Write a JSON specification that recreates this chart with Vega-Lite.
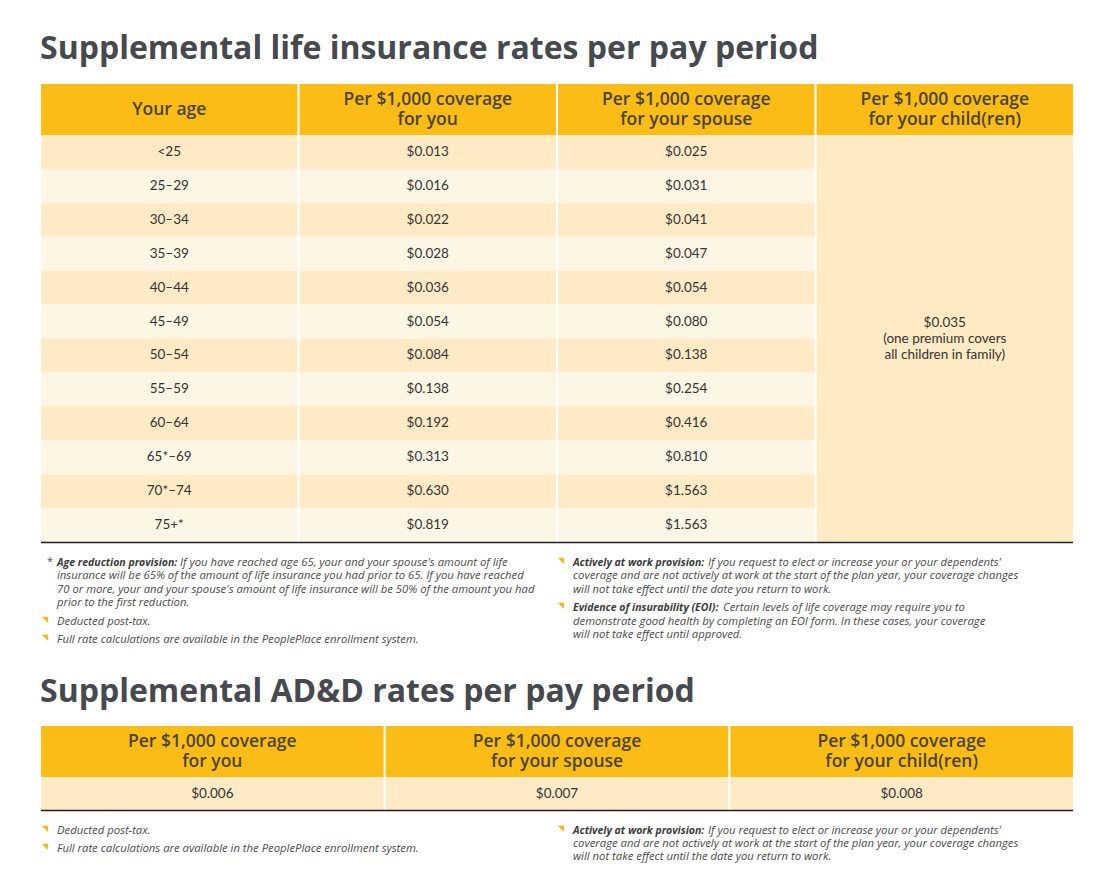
{
  "$schema": "https://vega.github.io/schema/vega-lite/v6.json",
  "width": 1115,
  "height": 896,
  "autosize": {"type": "none"},
  "padding": 0,
  "background": "#ffffff",
  "config": {"view": {"stroke": null}},
  "datasets": {
    "titles": [
      {"section": "life", "title": "Supplemental life insurance rates per pay period"},
      {"section": "add", "title": "Supplemental AD&D rates per pay period"}
    ],
    "rules": [{"section": "life"}, {"section": "add"}],
    "lifeHeader": [
      {"part": "header", "col": "Your age", "label": "Your age"},
      {"part": "header", "col": "for you", "label": "Per $1,000 coverage\nfor you"},
      {"part": "header", "col": "for your spouse", "label": "Per $1,000 coverage\nfor your spouse"},
      {"part": "header", "col": "for your child(ren)", "label": "Per $1,000 coverage\nfor your child(ren)"}
    ],
    "lifeRates": [
      {"Your age": "<25", "for you": 0.013, "for your spouse": 0.025},
      {"Your age": "25–29", "for you": 0.016, "for your spouse": 0.031},
      {"Your age": "30–34", "for you": 0.022, "for your spouse": 0.041},
      {"Your age": "35–39", "for you": 0.028, "for your spouse": 0.047},
      {"Your age": "40–44", "for you": 0.036, "for your spouse": 0.054},
      {"Your age": "45–49", "for you": 0.054, "for your spouse": 0.080},
      {"Your age": "50–54", "for you": 0.084, "for your spouse": 0.138},
      {"Your age": "55–59", "for you": 0.138, "for your spouse": 0.254},
      {"Your age": "60–64", "for you": 0.192, "for your spouse": 0.416},
      {"Your age": "65*–69", "for you": 0.313, "for your spouse": 0.810},
      {"Your age": "70*–74", "for you": 0.630, "for your spouse": 1.563},
      {"Your age": "75+*", "for you": 0.819, "for your spouse": 1.563}
    ],
    "lifeChild": [
      {"part": "all", "col": "for your child(ren)", "label": "$0.035\n(one premium covers\nall children in family)"}
    ],
    "addHeader": [
      {"part": "header", "col": "for you", "label": "Per $1,000 coverage\nfor you"},
      {"part": "header", "col": "for your spouse", "label": "Per $1,000 coverage\nfor your spouse"},
      {"part": "header", "col": "for your child(ren)", "label": "Per $1,000 coverage\nfor your child(ren)"}
    ],
    "addRates": [
      {"part": "rates", "for you": 0.006, "for your spouse": 0.007, "for your child(ren)": 0.008}
    ],
    "notes": [
      {"side": "left", "slot": 0, "marker": "*", "lead": "Age reduction provision:", "kind": "age", "text": "If you have reached age 65, your and your spouse's amount of life"},
      {"side": "left", "slot": 1, "text": "insurance will be 65% of the amount of life insurance you had prior to 65. If you have reached"},
      {"side": "left", "slot": 2, "text": "70 or more, your and your spouse's amount of life insurance will be 50% of the amount you had"},
      {"side": "left", "slot": 3, "text": "prior to the first reduction."},
      {"side": "left", "slot": 5, "marker": "◥", "text": "Deducted post-tax."},
      {"side": "left", "slot": 7, "marker": "◥", "text": "Full rate calculations are available in the PeoplePlace enrollment system."},
      {"side": "right", "slot": 0, "marker": "◥", "lead": "Actively at work provision:", "kind": "active", "text": "If you request to elect or increase your or your dependents'"},
      {"side": "right", "slot": 1, "text": "coverage and are not actively at work at the start of the plan year, your coverage changes"},
      {"side": "right", "slot": 2, "text": "will not take effect until the date you return to work."},
      {"side": "right", "slot": 4, "marker": "◥", "lead": "Evidence of insurability (EOI):", "kind": "eoi", "text": "Certain levels of life coverage may require you to"},
      {"side": "right", "slot": 5, "text": "demonstrate good health by completing an EOI form. In these cases, your coverage"},
      {"side": "right", "slot": 6, "text": "will not take effect until approved."},
      {"side": "left", "slot": 8, "marker": "◥", "text": "Deducted post-tax."},
      {"side": "left", "slot": 10, "marker": "◥", "text": "Full rate calculations are available in the PeoplePlace enrollment system."},
      {"side": "right", "slot": 8, "marker": "◥", "lead": "Actively at work provision:", "kind": "active", "text": "If you request to elect or increase your or your dependents'"},
      {"side": "right", "slot": 9, "text": "coverage and are not actively at work at the start of the plan year, your coverage changes"},
      {"side": "right", "slot": 11, "text": "will not take effect until the date you return to work."}
    ]
  },
  "resolve": {"scale": {"x": "independent", "y": "independent", "color": "independent"}},
  "layer": [
    {
      "data": {"name": "titles"},
      "mark": {"type": "text", "align": "left", "baseline": "middle", "font": "Open Sans", "fontWeight": "bold", "fontSize": 32, "color": "#46494e"},
      "encoding": {
        "x": {"field": "section", "type": "nominal", "scale": {"type": "point", "domain": ["life", "add"], "range": [40, 40], "padding": 0}, "axis": null},
        "y": {"field": "section", "type": "nominal", "scale": {"type": "point", "domain": ["life", "add"], "range": [49, 692], "padding": 0}, "axis": null},
        "text": {"field": "title", "type": "nominal"}
      }
    },
    {
      "data": {"name": "lifeHeader"},
      "mark": {"type": "rect", "fill": "#FBBC15"},
      "encoding": {
        "x": {"field": "col", "type": "nominal", "scale": {"type": "band", "domain": ["Your age", "for you", "for your spouse", "for your child(ren)"], "range": [41, 1073], "paddingInner": 0.008, "paddingOuter": 0}, "axis": null},
        "y": {"field": "part", "type": "nominal", "scale": {"type": "band", "domain": ["header"], "range": [84, 135], "paddingInner": 0, "paddingOuter": 0}, "axis": null}
      }
    },
    {
      "data": {"name": "lifeHeader"},
      "transform": [{"filter": "datum.col === 'Your age'"}],
      "mark": {"type": "text", "align": "center", "baseline": "middle", "font": "Open Sans", "fontWeight": 600, "fontSize": 17.5, "color": "#4a4536"},
      "encoding": {
        "x": {"field": "col", "type": "nominal", "scale": {"type": "band", "domain": ["Your age", "for you", "for your spouse", "for your child(ren)"], "range": [41, 1073], "paddingInner": 0.008, "paddingOuter": 0}, "axis": null},
        "y": {"field": "part", "type": "nominal", "scale": {"type": "band", "domain": ["header"], "range": [84, 135], "paddingInner": 0, "paddingOuter": 0}, "axis": null},
        "text": {"field": "label", "type": "nominal"}
      }
    },
    {
      "data": {"name": "lifeHeader"},
      "transform": [{"filter": "datum.col !== 'Your age'"}],
      "mark": {"type": "text", "align": "center", "baseline": "middle", "font": "Open Sans", "fontWeight": 600, "fontSize": 17.5, "color": "#4a4536", "lineBreak": "\n", "lineHeight": 20, "dy": -10},
      "encoding": {
        "x": {"field": "col", "type": "nominal", "scale": {"type": "band", "domain": ["Your age", "for you", "for your spouse", "for your child(ren)"], "range": [41, 1073], "paddingInner": 0.008, "paddingOuter": 0}, "axis": null},
        "y": {"field": "part", "type": "nominal", "scale": {"type": "band", "domain": ["header"], "range": [84, 135], "paddingInner": 0, "paddingOuter": 0}, "axis": null},
        "text": {"field": "label", "type": "nominal"}
      }
    },
    {
      "data": {"name": "lifeRates"},
      "transform": [{"fold": ["Your age", "for you", "for your spouse"], "as": ["col", "val"]}],
      "mark": {"type": "rect"},
      "encoding": {
        "x": {"field": "col", "type": "nominal", "scale": {"type": "band", "domain": ["Your age", "for you", "for your spouse", "for your child(ren)"], "range": [41, 1073], "paddingInner": 0.008, "paddingOuter": 0}, "axis": null},
        "y": {"field": "Your age", "type": "nominal", "sort": null, "scale": {"type": "band", "domain": ["<25", "25–29", "30–34", "35–39", "40–44", "45–49", "50–54", "55–59", "60–64", "65*–69", "70*–74", "75+*"], "range": [135, 542], "paddingInner": 0, "paddingOuter": 0}, "axis": null},
        "color": {"field": "Your age", "type": "nominal", "legend": null, "scale": {"domain": ["<25", "25–29", "30–34", "35–39", "40–44", "45–49", "50–54", "55–59", "60–64", "65*–69", "70*–74", "75+*"], "range": ["#FEEBC6", "#FEF6E4", "#FEEBC6", "#FEF6E4", "#FEEBC6", "#FEF6E4", "#FEEBC6", "#FEF6E4", "#FEEBC6", "#FEF6E4", "#FEEBC6", "#FEF6E4"]}}
      }
    },
    {
      "data": {"name": "lifeRates"},
      "transform": [{"fold": ["Your age"], "as": ["col", "label"]}],
      "mark": {"type": "text", "align": "center", "baseline": "middle", "font": "Lato", "fontSize": 13.5, "color": "#333333"},
      "encoding": {
        "x": {"field": "col", "type": "nominal", "scale": {"type": "band", "domain": ["Your age", "for you", "for your spouse", "for your child(ren)"], "range": [41, 1073], "paddingInner": 0.008, "paddingOuter": 0}, "axis": null},
        "y": {"field": "Your age", "type": "nominal", "scale": {"type": "band", "domain": ["<25", "25–29", "30–34", "35–39", "40–44", "45–49", "50–54", "55–59", "60–64", "65*–69", "70*–74", "75+*"], "range": [135, 542], "paddingInner": 0, "paddingOuter": 0}, "axis": null},
        "text": {"field": "label", "type": "nominal"}
      }
    },
    {
      "data": {"name": "lifeRates"},
      "transform": [{"fold": ["for you", "for your spouse"], "as": ["col", "rate"]}],
      "mark": {"type": "text", "align": "center", "baseline": "middle", "font": "Lato", "fontSize": 13.5, "color": "#333333"},
      "encoding": {
        "x": {"field": "col", "type": "nominal", "scale": {"type": "band", "domain": ["Your age", "for you", "for your spouse", "for your child(ren)"], "range": [41, 1073], "paddingInner": 0.008, "paddingOuter": 0}, "axis": null},
        "y": {"field": "Your age", "type": "nominal", "scale": {"type": "band", "domain": ["<25", "25–29", "30–34", "35–39", "40–44", "45–49", "50–54", "55–59", "60–64", "65*–69", "70*–74", "75+*"], "range": [135, 542], "paddingInner": 0, "paddingOuter": 0}, "axis": null},
        "text": {"field": "rate", "type": "quantitative", "format": "$.3f"}
      }
    },
    {
      "data": {"name": "lifeChild"},
      "mark": {"type": "rect", "fill": "#FEEAC3"},
      "encoding": {
        "x": {"field": "col", "type": "nominal", "scale": {"type": "band", "domain": ["Your age", "for you", "for your spouse", "for your child(ren)"], "range": [41, 1073], "paddingInner": 0.008, "paddingOuter": 0}, "axis": null},
        "y": {"field": "part", "type": "nominal", "scale": {"type": "band", "domain": ["all"], "range": [135, 542], "paddingInner": 0, "paddingOuter": 0}, "axis": null}
      }
    },
    {
      "data": {"name": "lifeChild"},
      "mark": {"type": "text", "align": "center", "baseline": "middle", "font": "Lato", "fontSize": 13.5, "color": "#333333", "lineBreak": "\n", "lineHeight": 16, "dy": -16},
      "encoding": {
        "x": {"field": "col", "type": "nominal", "scale": {"type": "band", "domain": ["Your age", "for you", "for your spouse", "for your child(ren)"], "range": [41, 1073], "paddingInner": 0.008, "paddingOuter": 0}, "axis": null},
        "y": {"field": "part", "type": "nominal", "scale": {"type": "band", "domain": ["all"], "range": [135, 542], "paddingInner": 0, "paddingOuter": 0}, "axis": null},
        "text": {"field": "label", "type": "nominal"}
      }
    },
    {
      "data": {"name": "addHeader"},
      "mark": {"type": "rect", "fill": "#FBBC15"},
      "encoding": {
        "x": {"field": "col", "type": "nominal", "scale": {"type": "band", "domain": ["for you", "for your spouse", "for your child(ren)"], "range": [41, 1073], "paddingInner": 0.006, "paddingOuter": 0}, "axis": null},
        "y": {"field": "part", "type": "nominal", "scale": {"type": "band", "domain": ["header"], "range": [726, 777], "paddingInner": 0, "paddingOuter": 0}, "axis": null}
      }
    },
    {
      "data": {"name": "addHeader"},
      "mark": {"type": "text", "align": "center", "baseline": "middle", "font": "Open Sans", "fontWeight": 600, "fontSize": 17.5, "color": "#4a4536", "lineBreak": "\n", "lineHeight": 20, "dy": -10},
      "encoding": {
        "x": {"field": "col", "type": "nominal", "scale": {"type": "band", "domain": ["for you", "for your spouse", "for your child(ren)"], "range": [41, 1073], "paddingInner": 0.006, "paddingOuter": 0}, "axis": null},
        "y": {"field": "part", "type": "nominal", "scale": {"type": "band", "domain": ["header"], "range": [726, 777], "paddingInner": 0, "paddingOuter": 0}, "axis": null},
        "text": {"field": "label", "type": "nominal"}
      }
    },
    {
      "data": {"name": "addRates"},
      "transform": [{"fold": ["for you", "for your spouse", "for your child(ren)"], "as": ["col", "rate"]}],
      "mark": {"type": "rect", "fill": "#FEEBC6"},
      "encoding": {
        "x": {"field": "col", "type": "nominal", "scale": {"type": "band", "domain": ["for you", "for your spouse", "for your child(ren)"], "range": [41, 1073], "paddingInner": 0.006, "paddingOuter": 0}, "axis": null},
        "y": {"field": "part", "type": "nominal", "scale": {"type": "band", "domain": ["rates"], "range": [777, 810], "paddingInner": 0, "paddingOuter": 0}, "axis": null}
      }
    },
    {
      "data": {"name": "addRates"},
      "transform": [{"fold": ["for you", "for your spouse", "for your child(ren)"], "as": ["col", "rate"]}],
      "mark": {"type": "text", "align": "center", "baseline": "middle", "font": "Lato", "fontSize": 13.5, "color": "#333333"},
      "encoding": {
        "x": {"field": "col", "type": "nominal", "scale": {"type": "band", "domain": ["for you", "for your spouse", "for your child(ren)"], "range": [41, 1073], "paddingInner": 0.006, "paddingOuter": 0}, "axis": null},
        "y": {"field": "part", "type": "nominal", "scale": {"type": "band", "domain": ["rates"], "range": [777, 810], "paddingInner": 0, "paddingOuter": 0}, "axis": null},
        "text": {"field": "rate", "type": "quantitative", "format": "$.3f"}
      }
    },
    {
      "data": {"name": "rules"},
      "mark": {"type": "rule", "color": "#231f20", "strokeWidth": 1.5},
      "encoding": {
        "x": {"datum": 0, "type": "quantitative", "scale": {"domain": [0, 1], "range": [41, 1073], "nice": false, "zero": false}, "axis": null},
        "x2": {"datum": 1},
        "y": {"field": "section", "type": "nominal", "scale": {"type": "point", "domain": ["life", "add"], "range": [542.5, 810.5], "padding": 0}, "axis": null}
      }
    },
    {
      "data": {"name": "notes"},
      "transform": [{"filter": "datum.marker === '*'"}],
      "mark": {"type": "text", "align": "center", "baseline": "middle", "font": "Open Sans", "fontSize": 11, "color": "#555555", "dx": -7, "dy": -1},
      "encoding": {
        "x": {"field": "side", "type": "nominal", "scale": {"type": "point", "domain": ["left", "right"], "range": [57, 573], "padding": 0}, "axis": null},
        "y": {"field": "slot", "type": "quantitative", "scale": {"type": "linear", "domain": [0, 1, 2, 3, 4, 5, 6, 7, 8, 9, 10, 11], "range": [562.5, 576, 589.5, 603, 608, 621.75, 635, 640, 831, 844, 849, 857], "nice": false, "zero": false}, "axis": null},
        "text": {"field": "marker", "type": "nominal"}
      }
    },
    {
      "data": {"name": "notes"},
      "transform": [{"filter": "datum.marker === '◥'"}],
      "mark": {"type": "text", "align": "center", "baseline": "middle", "font": "DejaVu Sans", "fontSize": 8, "color": "#F5B616", "dx": -12, "dy": -2},
      "encoding": {
        "x": {"field": "side", "type": "nominal", "scale": {"type": "point", "domain": ["left", "right"], "range": [57, 573], "padding": 0}, "axis": null},
        "y": {"field": "slot", "type": "quantitative", "scale": {"type": "linear", "domain": [0, 1, 2, 3, 4, 5, 6, 7, 8, 9, 10, 11], "range": [562.5, 576, 589.5, 603, 608, 621.75, 635, 640, 831, 844, 849, 857], "nice": false, "zero": false}, "axis": null},
        "text": {"field": "marker", "type": "nominal"}
      }
    },
    {
      "data": {"name": "notes"},
      "transform": [{"filter": "isValid(datum.lead)"}],
      "mark": {"type": "text", "align": "left", "baseline": "middle", "font": "Open Sans", "fontStyle": "italic", "fontWeight": "bold", "fontSize": 10.5, "color": "#3a3a3a"},
      "encoding": {
        "x": {"field": "side", "type": "nominal", "scale": {"type": "point", "domain": ["left", "right"], "range": [57, 573], "padding": 0}, "axis": null},
        "y": {"field": "slot", "type": "quantitative", "scale": {"type": "linear", "domain": [0, 1, 2, 3, 4, 5, 6, 7, 8, 9, 10, 11], "range": [562.5, 576, 589.5, 603, 608, 621.75, 635, 640, 831, 844, 849, 857], "nice": false, "zero": false}, "axis": null},
        "text": {"field": "lead", "type": "nominal"}
      }
    },
    {
      "data": {"name": "notes"},
      "transform": [{"filter": "!isValid(datum.lead)"}],
      "mark": {"type": "text", "align": "left", "baseline": "middle", "font": "Open Sans", "fontStyle": "italic", "fontSize": 11.3, "color": "#4a4a4a"},
      "encoding": {
        "x": {"field": "side", "type": "nominal", "scale": {"type": "point", "domain": ["left", "right"], "range": [57, 573], "padding": 0}, "axis": null},
        "y": {"field": "slot", "type": "quantitative", "scale": {"type": "linear", "domain": [0, 1, 2, 3, 4, 5, 6, 7, 8, 9, 10, 11], "range": [562.5, 576, 589.5, 603, 608, 621.75, 635, 640, 831, 844, 849, 857], "nice": false, "zero": false}, "axis": null},
        "text": {"field": "text", "type": "nominal"}
      }
    },
    {
      "data": {"name": "notes"},
      "transform": [{"filter": "datum.kind === 'age'"}],
      "mark": {"type": "text", "align": "left", "baseline": "middle", "font": "Open Sans", "fontStyle": "italic", "fontSize": 11.3, "color": "#4a4a4a", "dx": 123},
      "encoding": {
        "x": {"field": "side", "type": "nominal", "scale": {"type": "point", "domain": ["left", "right"], "range": [57, 573], "padding": 0}, "axis": null},
        "y": {"field": "slot", "type": "quantitative", "scale": {"type": "linear", "domain": [0, 1, 2, 3, 4, 5, 6, 7, 8, 9, 10, 11], "range": [562.5, 576, 589.5, 603, 608, 621.75, 635, 640, 831, 844, 849, 857], "nice": false, "zero": false}, "axis": null},
        "text": {"field": "text", "type": "nominal"}
      }
    },
    {
      "data": {"name": "notes"},
      "transform": [{"filter": "datum.kind === 'active'"}],
      "mark": {"type": "text", "align": "left", "baseline": "middle", "font": "Open Sans", "fontStyle": "italic", "fontSize": 11.3, "color": "#4a4a4a", "dx": 135},
      "encoding": {
        "x": {"field": "side", "type": "nominal", "scale": {"type": "point", "domain": ["left", "right"], "range": [57, 573], "padding": 0}, "axis": null},
        "y": {"field": "slot", "type": "quantitative", "scale": {"type": "linear", "domain": [0, 1, 2, 3, 4, 5, 6, 7, 8, 9, 10, 11], "range": [562.5, 576, 589.5, 603, 608, 621.75, 635, 640, 831, 844, 849, 857], "nice": false, "zero": false}, "axis": null},
        "text": {"field": "text", "type": "nominal"}
      }
    },
    {
      "data": {"name": "notes"},
      "transform": [{"filter": "datum.kind === 'eoi'"}],
      "mark": {"type": "text", "align": "left", "baseline": "middle", "font": "Open Sans", "fontStyle": "italic", "fontSize": 11.3, "color": "#4a4a4a", "dx": 150},
      "encoding": {
        "x": {"field": "side", "type": "nominal", "scale": {"type": "point", "domain": ["left", "right"], "range": [57, 573], "padding": 0}, "axis": null},
        "y": {"field": "slot", "type": "quantitative", "scale": {"type": "linear", "domain": [0, 1, 2, 3, 4, 5, 6, 7, 8, 9, 10, 11], "range": [562.5, 576, 589.5, 603, 608, 621.75, 635, 640, 831, 844, 849, 857], "nice": false, "zero": false}, "axis": null},
        "text": {"field": "text", "type": "nominal"}
      }
    }
  ]
}
